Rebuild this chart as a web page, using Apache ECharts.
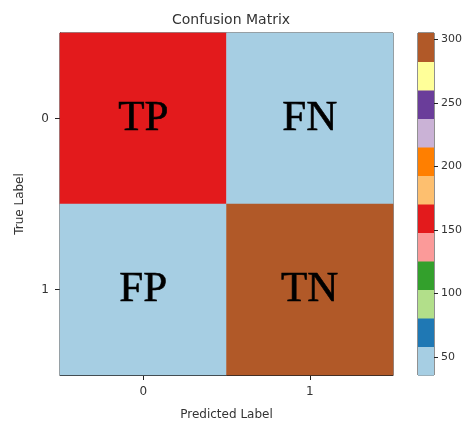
<!DOCTYPE html>
<html>
<head>
<meta charset="utf-8">
<script src="https://cdn.jsdelivr.net/npm/echarts@6/dist/echarts.min.js"></script>
<style>
  html, body { margin: 0; padding: 0; background: #fff; }
  #chart { width: 470px; height: 429px; }
</style>
</head>
<body>
<div id="chart"></div>
<script>
// 数据
const predLabels = ['0', '1']
const trueLabels = ['1', '0'] // 0 在上面
// [pred, true, value]
const cellValues = [
  ['0', '0', 160],
  ['1', '0', 36],
  ['0', '1', 48],
  ['1', '1', 305]
]
const cellNames = { '0-0': 'TP', '1-0': 'FN', '0-1': 'FP', '1-1': 'TN' }
const colorMin = 36
const colorMax = 305
const barTicks = [50, 100, 150, 200, 250, 300]
const pairedColors = ['#a6cee3', '#1f78b4', '#b2df8a', '#33a02c', '#fb9a99', '#e31a1c',
  '#fdbf6f', '#ff7f00', '#cab2d6', '#6a3d9a', '#ffff99', '#b15928']

// colorbar 分段
const step = (colorMax - colorMin) / pairedColors.length
const bins = pairedColors.map((c, i) => [colorMin + i * step, colorMin + (i + 1) * step, i])
const pieces = bins.map((b, i) => ({
  gte: b[0],
  lt: i === bins.length - 1 ? b[1] + 1 : b[1],
  color: pairedColors[i]
}))

const textColor = '#333'
const axisLine = { show: true, lineStyle: { color: '#222', width: 1 } }

const chart = echarts.init(document.getElementById('chart'))
chart.setOption({
  animation: false,
  title: {
    text: 'Confusion Matrix',
    left: 226,
    top: 8,
    textAlign: 'center',
    textStyle: { fontFamily: 'DejaVu Sans', fontSize: 14, fontWeight: 'normal', color: textColor }
  },
  grid: [
    { left: 60, top: 33, width: 333, height: 342, show: true, borderColor: '#222', borderWidth: 1, backgroundColor: 'transparent' },
    { left: 418, top: 33, width: 16, height: 342, show: true, borderColor: '#222', borderWidth: 1, backgroundColor: 'transparent' }
  ],
  xAxis: [
    {
      type: 'category',
      gridIndex: 0,
      data: predLabels,
      name: 'Predicted Label',
      nameLocation: 'middle',
      nameGap: 34,
      nameTextStyle: { fontFamily: 'DejaVu Sans', fontSize: 12, color: textColor },
      axisLine: axisLine,
      axisTick: { show: true, alignWithLabel: true, length: 5, lineStyle: { color: '#222' } },
      axisLabel: { fontFamily: 'DejaVu Sans', fontSize: 12, color: textColor, margin: 11 },
      splitLine: { show: false }
    },
    {
      type: 'category',
      gridIndex: 1,
      data: ['c'],
      show: false
    }
  ],
  yAxis: [
    {
      type: 'category',
      gridIndex: 0,
      data: trueLabels,
      name: 'True Label',
      nameLocation: 'middle',
      nameGap: 34,
      nameTextStyle: { fontFamily: 'DejaVu Sans', fontSize: 12, color: textColor },
      axisLine: axisLine,
      axisTick: { show: true, alignWithLabel: true, length: 5, lineStyle: { color: '#222' } },
      axisLabel: { fontFamily: 'DejaVu Sans', fontSize: 12, color: textColor, margin: 11 },
      splitLine: { show: false }
    },
    {
      type: 'value',
      gridIndex: 1,
      position: 'right',
      min: colorMin,
      max: colorMax,
      axisLine: { show: false },
      axisTick: { show: true, length: 4, customValues: barTicks, lineStyle: { color: '#222' } },
      axisLabel: { fontFamily: 'DejaVu Sans', fontSize: 11, color: textColor, margin: 7, customValues: barTicks },
      splitLine: { show: false }
    }
  ],
  visualMap: {
    type: 'piecewise',
    show: false,
    seriesIndex: 0,
    dimension: 2,
    pieces: pieces
  },
  series: [
    {
      type: 'heatmap',
      xAxisIndex: 0,
      yAxisIndex: 0,
      data: cellValues,
      label: {
        show: true,
        formatter: p => cellNames[p.data[0] + '-' + p.data[1]],
        fontFamily: 'Liberation Serif',
        fontSize: 43,
        color: '#000',
        textBorderColor: '#000',
        textBorderWidth: 0.6
      },
      itemStyle: { borderWidth: 0 },
      emphasis: { disabled: true }
    },
    {
      type: 'custom',
      xAxisIndex: 1,
      yAxisIndex: 1,
      data: bins,
      renderItem: (params, api) => {
        const top = api.coord([0, api.value(1)])
        const bottom = api.coord([0, api.value(0)])
        const size = api.size([1, 0])
        return {
          type: 'rect',
          shape: { x: top[0] - size[0] / 2, y: top[1], width: size[0], height: bottom[1] - top[1] + 0.5 },
          style: { fill: pairedColors[api.value(2)] }
        }
      },
      silent: true,
      z: 1
    }
  ]
})
window.addEventListener('resize', () => chart.resize())
</script>
</body>
</html>
